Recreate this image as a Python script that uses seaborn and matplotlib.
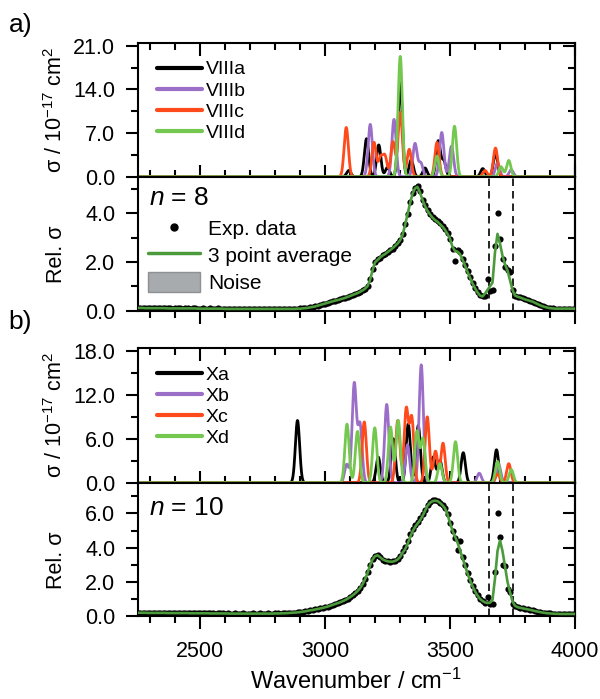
import numpy as np
import pandas as pd
import matplotlib
matplotlib.use("Agg")
import matplotlib.pyplot as plt
import seaborn as sns
from matplotlib.ticker import MultipleLocator, FormatStrFormatter
from matplotlib.lines import Line2D
from matplotlib.patches import Patch

sns.set_theme(style="white")
plt.rcParams["font.family"] = ["Liberation Sans", "DejaVu Sans"]
plt.rcParams["mathtext.fontset"] = "custom"
plt.rcParams["mathtext.rm"] = "Liberation Sans"
plt.rcParams["mathtext.it"] = "Liberation Sans:italic"
plt.rcParams["mathtext.bf"] = "Liberation Sans:bold"
for k in ["text.color", "axes.labelcolor", "xtick.color", "ytick.color", "axes.edgecolor"]:
    plt.rcParams[k] = "black"

# ---------------- data ----------------
# calculated band positions (cm-1) and peak cross sections (1e-17 cm2), n = 8
viiia_pos = [3095, 3166, 3215, 3250, 3301, 3345, 3400, 3453, 3475, 3631, 3682]
viiia_int = [1.0, 6.1, 5.1, 1.5, 15.0, 2.7, 1.4, 5.7, 2.5, 1.3, 3.8]
viiib_pos = [3181, 3276, 3360, 3383, 3467, 3506, 3690, 3745]
viiib_int = [8.4, 9.2, 5.3, 2.2, 7.1, 4.9, 2.2, 1.1]
viiic_pos = [3085, 3196, 3222, 3240, 3272, 3301, 3337, 3448, 3640, 3682]
viiic_int = [7.9, 5.5, 3.0, 3.2, 5.6, 10.3, 4.4, 5.5, 1.0, 4.6]
viiid_pos = [3301, 3448, 3518, 3704, 3735]
viiid_int = [19.3, 3.3, 8.1, 1.6, 2.6]

# n = 10
xa_pos = [2890, 3213, 3273, 3333, 3373, 3433, 3460, 3553, 3686]
xa_int = [8.5, 3.5, 6.0, 8.0, 7.8, 3.5, 3.0, 4.1, 4.5]
xb_pos = [3087, 3117, 3140, 3247, 3330, 3385, 3617, 3695]
xb_int = [2.5, 13.5, 7.9, 10.7, 5.2, 16.1, 1.3, 2.4]
xc_pos = [3157, 3291, 3325, 3347, 3409, 3442, 3472, 3690, 3735]
xc_int = [8.3, 8.5, 10.0, 8.8, 9.0, 4.3, 5.4, 1.2, 2.6]
xd_pos = [3088, 3130, 3199, 3262, 3293, 3368, 3392, 3460, 3522, 3690, 3745]
xd_int = [8.0, 7.0, 7.5, 7.6, 8.5, 7.0, 6.0, 2.6, 5.6, 2.9, 1.8]

labels_a = ["VIIIa", "VIIIb", "VIIIc", "VIIId"]
labels_b = ["Xa", "Xb", "Xc", "Xd"]

# experimental wavenumbers (cm-1), 2250 ... 4000 in 10 cm-1 steps
exp_wn = list(range(2250, 4001, 10))

# n = 8 : 3 point average
avg_a = [
    0.11, 0.11, 0.11, 0.10, 0.10, 0.10, 0.10, 0.10, 0.10, 0.10,
    0.10, 0.10, 0.09, 0.09, 0.09, 0.09, 0.09, 0.09, 0.09, 0.09,
    0.09, 0.09, 0.09, 0.09, 0.08, 0.08, 0.08, 0.08, 0.08, 0.08,
    0.08, 0.08, 0.08, 0.08, 0.08, 0.07, 0.07, 0.07, 0.07, 0.07,
    0.07, 0.07, 0.07, 0.07, 0.07, 0.07, 0.07, 0.07, 0.07, 0.07,
    0.07, 0.07, 0.07, 0.07, 0.07, 0.07, 0.07, 0.07, 0.07, 0.07,
    0.07, 0.07, 0.07, 0.07, 0.08, 0.08, 0.09, 0.10, 0.11, 0.13,
    0.15, 0.17, 0.20, 0.23, 0.26, 0.29, 0.32, 0.35, 0.38, 0.41,
    0.43, 0.46, 0.49, 0.52, 0.56, 0.60, 0.64, 0.68, 0.72, 0.77,
    0.83, 0.90, 1.00, 1.25, 1.65, 1.98, 2.08, 2.18, 2.26, 2.32,
    2.40, 2.48, 2.56, 2.65, 2.75, 2.88, 3.10, 3.50, 3.95, 4.40,
    4.80, 5.02, 5.08, 4.85, 4.55, 4.30, 4.10, 3.95, 3.82, 3.72,
    3.65, 3.55, 3.45, 3.32, 3.15, 2.95, 2.62, 2.45, 2.42, 2.32,
    2.10, 1.85, 1.60, 1.35, 1.12, 0.92, 0.75, 0.62, 0.58, 0.70,
    0.85, 1.00, 1.15, 2.40, 3.15, 2.75, 2.25, 1.90, 1.65, 1.25,
    0.85, 0.62, 0.57, 0.54, 0.50, 0.46, 0.43, 0.40, 0.37, 0.32,
    0.27, 0.22, 0.18, 0.15, 0.12, 0.10, 0.09, 0.08, 0.08, 0.08,
    0.08, 0.08, 0.08, 0.08, 0.08, 0.08,
]
# n = 8 : experimental points
exp_a = [
    0.11, 0.12, 0.10, 0.11, 0.10, 0.09, 0.11, 0.10, 0.10, 0.09,
    0.11, 0.10, 0.09, 0.10, 0.08, 0.09, 0.10, 0.09, 0.08, 0.09,
    0.10, 0.08, 0.09, 0.10, 0.08, 0.07, 0.09, 0.08, 0.08, 0.09,
    0.07, 0.08, 0.09, 0.08, 0.07, 0.08, 0.07, 0.06, 0.08, 0.07,
    0.07, 0.08, 0.06, 0.07, 0.08, 0.07, 0.06, 0.07, 0.08, 0.07,
    0.06, 0.07, 0.08, 0.07, 0.06, 0.07, 0.08, 0.06, 0.07, 0.07,
    0.08, 0.06, 0.07, 0.08, 0.08, 0.09, 0.09, 0.10, 0.12, 0.13,
    0.15, 0.18, 0.20, 0.23, 0.27, 0.29, 0.32, 0.36, 0.38, 0.41,
    0.44, 0.46, 0.50, 0.52, 0.56, 0.61, 0.64, 0.69, 0.72, 0.78,
    0.84, 0.90, 1.02, 1.28, 1.70, 2.00, 2.10, 2.16, 2.28, 2.34,
    2.40, 2.50, 2.55, 2.66, 2.78, 2.90, 3.15, 3.55, 3.98, 4.45,
    4.85, 5.05, 5.10, 4.90, 4.55, 4.32, 4.12, 3.98, 3.85, 3.75,
    3.66, 3.58, 3.48, 3.35, 3.18, 2.95, 2.55, 2.02, 2.48, 2.40,
    2.12, 1.88, 1.62, 1.36, 1.12, 0.92, 0.76, 0.63, 0.58, 0.62,
    1.28, 0.80, 0.85, 2.65, 4.00, 2.95, 2.10, 1.80, 1.65, 1.60,
    0.85, 0.60, 0.57, 0.55, 0.50, 0.47, 0.43, 0.40, 0.37, 0.33,
    0.27, 0.22, 0.18, 0.14, 0.12, 0.10, 0.09, 0.08, 0.07, 0.08,
    0.08, 0.07, 0.08, 0.08, 0.07, 0.08,
]

# n = 10 : 3 point average
avg_b = [
    0.19, 0.19, 0.19, 0.19, 0.18, 0.18, 0.18, 0.18, 0.18, 0.18,
    0.18, 0.18, 0.17, 0.17, 0.17, 0.17, 0.17, 0.17, 0.17, 0.17,
    0.17, 0.16, 0.16, 0.16, 0.16, 0.16, 0.16, 0.16, 0.16, 0.15,
    0.15, 0.15, 0.15, 0.15, 0.15, 0.15, 0.15, 0.14, 0.14, 0.14,
    0.14, 0.14, 0.14, 0.14, 0.14, 0.14, 0.14, 0.14, 0.14, 0.14,
    0.14, 0.14, 0.14, 0.14, 0.14, 0.15, 0.15, 0.15, 0.16, 0.16,
    0.17, 0.18, 0.19, 0.20, 0.21, 0.23, 0.25, 0.27, 0.30, 0.33,
    0.35, 0.38, 0.41, 0.44, 0.47, 0.51, 0.55, 0.60, 0.65, 0.70,
    0.75, 0.80, 0.86, 0.93, 1.01, 1.10, 1.20, 1.32, 1.46, 1.62,
    1.85, 2.15, 2.50, 2.95, 3.30, 3.50, 3.55, 3.45, 3.32, 3.25,
    3.20, 3.18, 3.18, 3.22, 3.30, 3.45, 3.70, 3.90, 4.20, 4.60,
    4.95, 5.20, 5.40, 5.60, 5.85, 6.15, 6.45, 6.62, 6.72, 6.75,
    6.72, 6.62, 6.48, 6.30, 5.95, 5.45, 5.00, 4.65, 4.30, 3.85,
    3.40, 2.95, 2.50, 2.10, 1.75, 1.45, 1.20, 1.00, 0.88, 0.80,
    0.76, 0.78, 0.95, 2.20, 3.80, 4.42, 3.80, 2.90, 2.00, 1.40,
    0.85, 0.60, 0.52, 0.48, 0.45, 0.42, 0.39, 0.36, 0.33, 0.29,
    0.26, 0.23, 0.20, 0.18, 0.16, 0.15, 0.14, 0.13, 0.13, 0.12,
    0.12, 0.12, 0.12, 0.12, 0.12, 0.12,
]
# n = 10 : experimental points
exp_b = [
    0.19, 0.20, 0.18, 0.19, 0.18, 0.19, 0.17, 0.18, 0.19, 0.18,
    0.17, 0.18, 0.18, 0.16, 0.17, 0.18, 0.17, 0.16, 0.17, 0.18,
    0.16, 0.17, 0.15, 0.16, 0.17, 0.16, 0.15, 0.16, 0.17, 0.15,
    0.16, 0.14, 0.15, 0.16, 0.15, 0.14, 0.16, 0.14, 0.13, 0.15,
    0.14, 0.13, 0.15, 0.14, 0.13, 0.14, 0.15, 0.13, 0.14, 0.15,
    0.13, 0.14, 0.15, 0.13, 0.14, 0.15, 0.16, 0.14, 0.16, 0.17,
    0.17, 0.18, 0.20, 0.20, 0.22, 0.23, 0.26, 0.27, 0.30, 0.34,
    0.35, 0.39, 0.41, 0.45, 0.47, 0.52, 0.55, 0.61, 0.65, 0.71,
    0.75, 0.81, 0.86, 0.94, 1.02, 1.10, 1.22, 1.33, 1.48, 1.64,
    1.88, 2.18, 2.55, 3.00, 3.35, 3.52, 3.56, 3.45, 3.30, 3.24,
    3.20, 3.17, 3.19, 3.23, 3.35, 3.50, 3.80, 4.05, 4.40, 4.78,
    5.10, 5.35, 5.52, 5.72, 5.95, 6.22, 6.50, 6.66, 6.76, 6.78,
    6.74, 6.64, 6.50, 6.30, 5.98, 5.45, 4.98, 4.55, 3.85, 4.40,
    3.45, 2.96, 2.52, 2.12, 1.76, 1.46, 1.20, 1.02, 0.88, 0.76,
    1.10, 0.72, 0.72, 2.60, 6.05, 4.60, 3.00, 2.90, 1.60, 1.40,
    0.72, 0.60, 0.52, 0.49, 0.45, 0.42, 0.40, 0.36, 0.33, 0.30,
    0.26, 0.23, 0.20, 0.18, 0.16, 0.15, 0.14, 0.13, 0.12, 0.12,
    0.12, 0.11, 0.12, 0.12, 0.11, 0.12,
]

window_edges = [3655, 3750]

x_ticks = [2500, 3000, 3500, 4000]

# ---------------- styling ----------------
col_black = "#000000"
col_purple = "#9b6ec8"
col_red = "#ff4a1c"
col_green = "#74c84f"
col_avg = "#4b9a3b"
palette_a = dict(zip(labels_a, [col_black, col_purple, col_red, col_green]))
palette_b = dict(zip(labels_b, [col_black, col_purple, col_red, col_green]))

FWHM = 20.0
grid = np.arange(2250.0, 4000.5, 1.0)


def broaden(pos, inten):
    sig = FWHM / 2.3548
    y = np.zeros_like(grid)
    for c, h in zip(pos, inten):
        y += h * np.exp(-0.5 * ((grid - c) / sig) ** 2)
    return y


def spectra_frame(labels, peak_lists):
    frames = []
    for lab, (p, i) in zip(labels, peak_lists):
        frames.append(pd.DataFrame({"wn": grid, "sigma": broaden(p, i), "conf": lab}))
    return pd.concat(frames, ignore_index=True)


df_a = spectra_frame(labels_a, [(viiia_pos, viiia_int), (viiib_pos, viiib_int),
                                (viiic_pos, viiic_int), (viiid_pos, viiid_int)])
df_b = spectra_frame(labels_b, [(xa_pos, xa_int), (xb_pos, xb_int),
                                (xc_pos, xc_int), (xd_pos, xd_int)])

W, H = 600, 699
fig = plt.figure(figsize=(6.0, 6.99), dpi=100)


def rect(top_px, bot_px, left_px=137.5, right_px=575.0):
    return [left_px / W, 1 - bot_px / H, (right_px - left_px) / W, (bot_px - top_px) / H]


ax1 = fig.add_axes(rect(42.7, 176.7))
ax2 = fig.add_axes(rect(176.7, 310.6))
ax3 = fig.add_axes(rect(348.0, 482.7))
ax4 = fig.add_axes(rect(482.7, 616.0))

TICK_FS = 15.5
MAJ, MIN = 9, 5
LW = 1.5


def style_axis(ax, ymaj, ymin, upper):
    for s in ax.spines.values():
        s.set_linewidth(LW)
        s.set_color("black")
    ax.set_xlim(2250, 4000)
    ax.xaxis.set_major_locator(MultipleLocator(500))
    ax.xaxis.set_minor_locator(MultipleLocator(100))
    ax.yaxis.set_major_locator(MultipleLocator(ymaj))
    ax.yaxis.set_minor_locator(MultipleLocator(ymin))
    ax.yaxis.set_major_formatter(FormatStrFormatter("%.1f"))
    ax.tick_params(axis="y", which="both", direction="out", left=True, right=False,
                   width=LW, color="black", labelsize=TICK_FS, pad=7)
    ax.tick_params(axis="y", which="major", length=MAJ)
    ax.tick_params(axis="y", which="minor", length=MIN)
    if upper:
        ax.tick_params(axis="x", which="both", direction="in", top=True, bottom=True,
                       labelbottom=False, width=LW, color="black")
    else:
        ax.tick_params(axis="x", which="both", direction="out", top=False, bottom=True,
                       width=LW, color="black", labelsize=TICK_FS, pad=9)
    ax.tick_params(axis="x", which="major", length=MAJ)
    ax.tick_params(axis="x", which="minor", length=MIN)
    sec = ax.secondary_yaxis("right")
    sec.yaxis.set_major_locator(MultipleLocator(ymaj))
    sec.yaxis.set_minor_locator(MultipleLocator(ymin))
    sec.tick_params(axis="y", which="both", direction="in", width=LW, color="black",
                    labelright=False)
    sec.tick_params(axis="y", which="major", length=MAJ)
    sec.tick_params(axis="y", which="minor", length=MIN)
    sec.spines["right"].set_linewidth(LW)
    ax.set_xlabel("")
    ax.set_ylabel("")
    ax.grid(False)


# ---- upper spectra panels ----
for ax, df, labs, pal, ymax, ymaj in [(ax1, df_a, labels_a, palette_a, 21.5, 7.0),
                                      (ax3, df_b, labels_b, palette_b, 18.4, 6.0)]:
    sns.lineplot(data=df, x="wn", y="sigma", hue="conf", hue_order=labs, palette=pal,
                 estimator=None, sort=False, lw=2.0, legend=False, ax=ax)
    ax.set_ylim(0, ymax)
    style_axis(ax, ymaj, ymaj / 2, True)
    handles = [Line2D([], [], color=pal[l], lw=3.0) for l in labs]
    ax.legend(handles, labs, loc="upper left", frameon=False, fontsize=14,
              handlelength=2.3, handletextpad=0.2, labelspacing=0.18,
              borderpad=0, borderaxespad=0, bbox_to_anchor=(0.045, 0.865))
    ax.set_ylabel("σ / 10$^{-17}$ cm$^{2}$", fontsize=15.5)
    ax.yaxis.set_label_coords(-0.162, 0.5)

# ---- lower relative panels ----
for ax, ex, av, ymax, ntext, ny in [(ax2, exp_a, avg_a, 5.5, r"$n$ = 8", 0.84),
                                    (ax4, exp_b, avg_b, 7.8, r"$n$ = 10", 0.81)]:
    sns.scatterplot(x=exp_wn, y=ex, color="black", s=20, linewidth=0, ax=ax, zorder=3)
    sns.lineplot(x=exp_wn, y=av, color=col_avg, lw=1.9, estimator=None, sort=False,
                 ax=ax, zorder=4)
    for xv in window_edges:
        ax.axvline(xv, color="black", lw=1.2, ls=(0, (4.5, 3)), zorder=2)
    ax.set_ylim(0, ymax)
    style_axis(ax, 2.0, 1.0, False)
    ax.text(0.026, ny, ntext, transform=ax.transAxes, fontsize=19, va="center", ha="left")
    ax.set_ylabel("Rel. σ", fontsize=15.5)
    ax.yaxis.set_label_coords(-0.162, 0.42)

ax2.tick_params(axis="x", labelbottom=False)
ax4.set_xticks(x_ticks)

leg_handles = [
    Line2D([], [], color="black", marker="o", ls="none", markersize=5),
    Line2D([], [], color=col_avg, lw=2.5),
    Patch(facecolor="#a8abae", edgecolor="#8e9194", lw=1.0),
]
ax2.legend(leg_handles, ["Exp. data", "3 point average", "Noise"], loc="upper left",
           frameon=False, fontsize=15, handlelength=2.5, handletextpad=0.4,
           handleheight=1.1, labelspacing=0.27, borderpad=0, borderaxespad=0,
           bbox_to_anchor=(0.024, 0.69))

fig.text(21 / W, 1 - 25 / H, "a)", fontsize=19, ha="center", va="center")
fig.text(20 / W, 1 - 322 / H, "b)", fontsize=19, ha="center", va="center")
fig.text(356 / W, 1 - 681 / H, r"Wavenumber / cm$^{-1}$", fontsize=17,
         ha="center", va="center")

fig.savefig("out.png", dpi=100)
